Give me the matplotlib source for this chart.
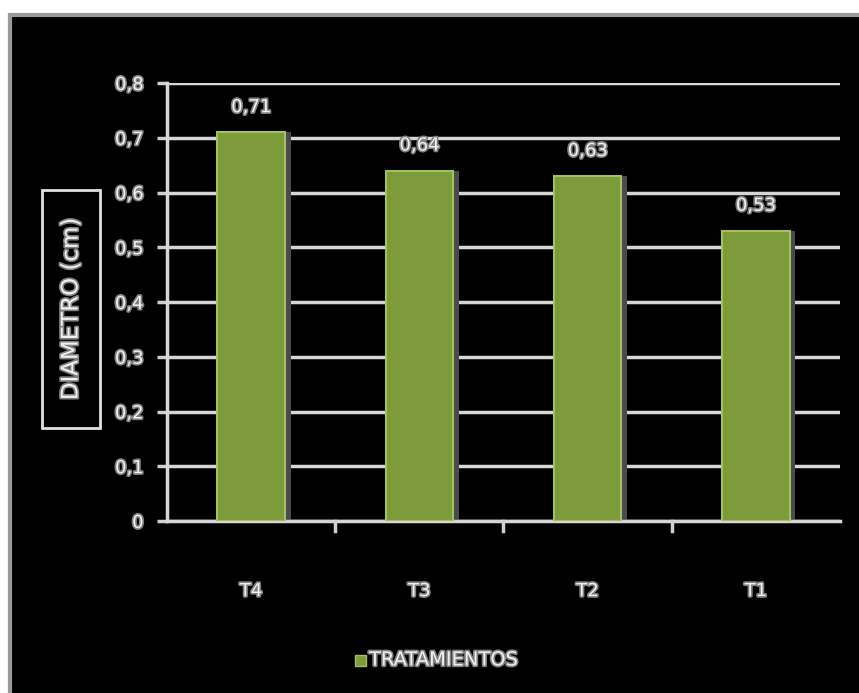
import matplotlib
matplotlib.use("Agg")
import matplotlib.pyplot as plt
import matplotlib.patheffects as pe
from matplotlib.patches import Rectangle
import numpy as np

categories = ["T4", "T3", "T2", "T1"]
values = [0.71, 0.64, 0.63, 0.53]
value_labels = ["0,71", "0,64", "0,63", "0,53"]
yticks = [0, 0.1, 0.2, 0.3, 0.4, 0.5, 0.6, 0.7, 0.8]
ytick_labels = ["0", "0,1", "0,2", "0,3", "0,4", "0,5", "0,6", "0,7", "0,8"]
ylabel = "DIAMETRO (cm)"
legend_label = "TRATAMIENTOS"

W, H = 859, 693
fig = plt.figure(figsize=(W / 100, H / 100), dpi=100, facecolor="white")

# black chart area with grey frame
fig.patches.append(Rectangle((10 / W, -0.05), 1.1, 1 - 15 / H + 0.05,
                             transform=fig.transFigure, facecolor="black",
                             edgecolor="#9a9a9a", linewidth=3, zorder=-10))

ax = fig.add_axes([167 / W, 1 - 521 / H, (840 - 167) / W, (521 - 83) / H])
ax.set_zorder(2)
ax.set_facecolor("black")

txt_fx = [pe.withStroke(linewidth=2.4, foreground="#808080")]
font = dict(family="DejaVu Sans", weight="normal", color="#f0f0f0")

x = np.arange(len(categories))
# soft shadow at bar right side
ax.bar(x + 0.035, values, width=0.4, color="#4a4a4a", zorder=2, linewidth=0)
bars = ax.bar(x, values, width=0.4, color="#7e9b3c", edgecolor="#a4bf62",
              linewidth=1.5, zorder=3)

for xi, v, lab in zip(x, values, value_labels):
    ax.annotate(lab, (xi, v), xytext=(0, 18), textcoords="offset points",
                ha="center", va="center", fontsize=13, path_effects=txt_fx, **font)

ax.set_xlim(-0.5, len(categories) - 0.5)
ax.set_ylim(0, 0.8)
ax.set_yticks(yticks)
ax.set_yticklabels(ytick_labels, fontsize=13, path_effects=txt_fx, **font)
ax.set_xticks(x)
ax.set_xticklabels(categories, fontsize=13, path_effects=txt_fx, **font)
ax.tick_params(axis="x", length=0, pad=44)
ax.tick_params(axis="y", length=7, width=2.5, color="#d0d0d0", pad=10)
for xb in np.arange(0.5, len(categories) - 0.5, 1):
    ax.plot([xb, xb], [0, -0.018], color="#d0d0d0", lw=2.5, clip_on=False, zorder=4)

ax.grid(axis="y", color="#d6d6d6", linewidth=2.5, zorder=1)
ax.set_axisbelow(True)
for s in ["top", "right"]:
    ax.spines[s].set_visible(False)
for s in ["left", "bottom"]:
    ax.spines[s].set_color("#d6d6d6")
    ax.spines[s].set_linewidth(2.5)

# y-axis title in a framed box
fig.text(71 / W, 1 - 309 / H, ylabel, rotation=90, ha="center", va="center",
         fontsize=16.5, path_effects=txt_fx, **font)
fig.patches.append(Rectangle((42 / W, 1 - 428 / H), 58 / W, 238 / H,
                             transform=fig.transFigure, facecolor="none",
                             edgecolor="#e0e0e0", linewidth=2, zorder=5))

# legend
fig.patches.append(Rectangle((355 / W, 1 - 666 / H), 11 / W, 11 / H,
                             transform=fig.transFigure, facecolor="#7e9b3c",
                             edgecolor="#a4bf62", linewidth=1, zorder=5))
fig.text(369 / W, 1 - 660 / H, legend_label, ha="left", va="center",
         fontsize=14, path_effects=txt_fx, **font)

fig.savefig("out.png", dpi=100, facecolor="white")
